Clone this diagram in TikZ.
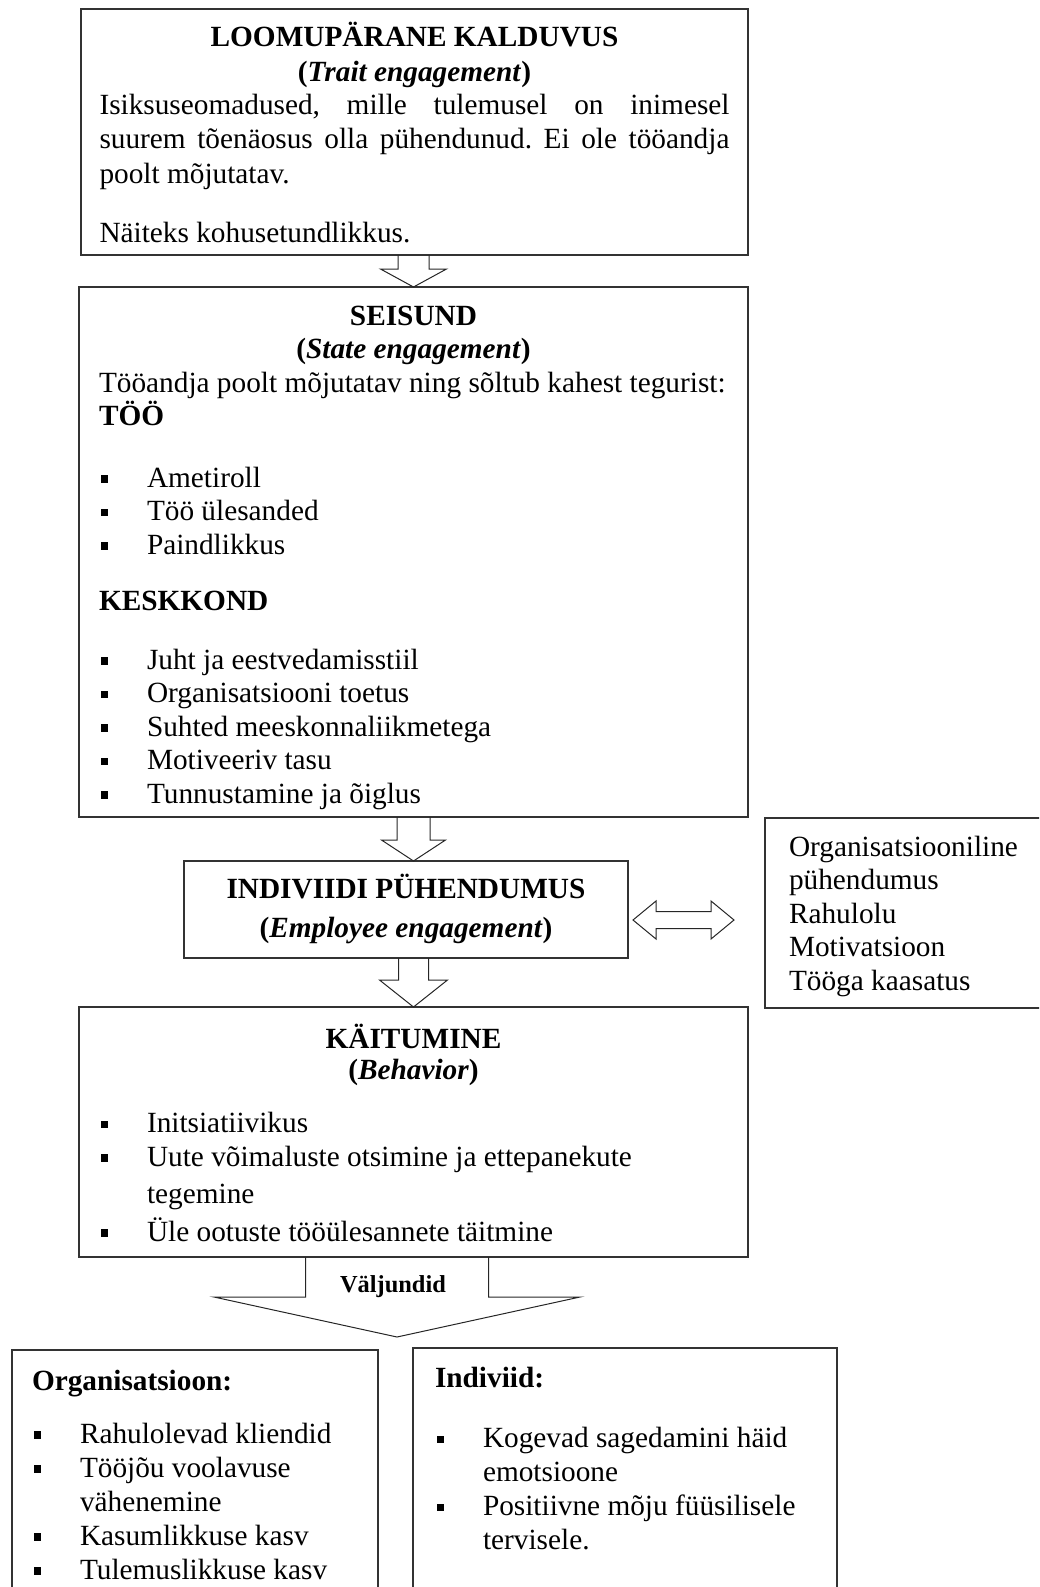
\documentclass[tikz,border=0pt]{standalone}
\usepackage{fontspec}
\setmainfont{Liberation Serif}
\usetikzlibrary{calc}
\frenchspacing

% square bullet of the item lists
\newcommand{\sqb}{\makebox[48pt][l]{\hspace{1.5pt}\rule[4.5pt]{7.5pt}{7.5pt}}}
% normal interword space of the font in ragged nodes
\newcommand{\plainsp}{\spaceskip=0pt\xspaceskip=0pt\relax}
% hollow block arrow: source node, tip, half shaft, half head, head length
\newcommand{\downblock}[5]{%
  \draw[blockarrow] let \p1=(#1.south), \p2=(#2) in
    (\x2-#3pt,\y1) -- (\x2-#3pt,\y2+#5pt) -- (\x2-#4pt,\y2+#5pt) -- (\p2)
    -- (\x2+#4pt,\y2+#5pt) -- (\x2+#3pt,\y2+#5pt) -- (\x2+#3pt,\y1);}

\begin{document}
\begin{tikzpicture}[x=1pt,y=-1pt,
    box/.style={draw=black!80,line width=1.5pt,anchor=north west,inner ysep=0pt,outer sep=0pt,
      font=\fontsize{29.3}{33.5}\selectfont},
    blockarrow/.style={draw=black!85,line width=1pt,line join=miter}]
  \useasboundingbox (0,0) rectangle (1039,1587);
  \clip (0,0) rectangle (1039,1587);

  \node[box,inner xsep=18.5pt,text width=630pt,align=justify,text height=37.5pt,text depth=208.5pt] (trait) at (81,9)
    {\plainsp{\centering\textbf{LOOMUPÄRANE KALDUVUS}\\[2pt]\textbf{(\textit{Trait engagement})}\par}\vspace{-2pt}
     \fontsize{29.3}{34.5}\selectfont
     Isiksuseomadused, mille tulemusel on inimesel\linebreak suurem tõenäosus olla pühendunud. Ei ole tööandja\linebreak poolt mõjutatav.\par\vspace{25pt}
     Näiteks kohusetundlikkus.};
  \node[box,inner xsep=20pt,text width=629pt,align=left,text height=38pt,text depth=492pt] (state) at (79,287)
    {\plainsp{\centering\textbf{SEISUND}\\\textbf{(\textit{State engagement})}\par}
     \mbox{Tööandja poolt mõjutatav ning sõltub kahest tegurist:}\\
     \textbf{TÖÖ}\\[28pt]
     \sqb Ametiroll\\
     \sqb Töö ülesanded\\
     \sqb Paindlikkus\\[23pt]
     \textbf{KESKKOND}\\[25pt]
     \sqb Juht ja eestvedamisstiil\\
     \sqb Organisatsiooni toetus\\
     \sqb Suhted meeskonnaliikmetega\\
     \sqb Motiveeriv tasu\\
     \sqb Tunnustamine ja õiglus};
  \node[box,inner xsep=10pt,text width=424pt,align=flush center,text height=37pt,text depth=60pt] (empl) at (184,861)
    {\plainsp\textbf{INDIVIIDI PÜHENDUMUS}\\[5.5pt]\textbf{(\textit{Employee engagement})}};
  \node[box,inner xsep=24pt,text width=232pt,align=left,text height=38pt,text depth=152pt] (side) at (765,818)
    {\plainsp Organisatsiooniline\\ pühendumus\\ Rahulolu\\ Motivatsioon\\ Tööga kaasatus};
  \node[box,inner xsep=20pt,text width=629pt,align=left,text height=41pt,text depth=209pt] (beh) at (79,1007)
    {\plainsp{\centering\textbf{KÄITUMINE}\\[-2.5pt]\textbf{(\textit{Behavior})}\par}\vspace{20pt}
     \sqb Initsiatiivikus\\
     \sqb Uute võimaluste otsimine ja ettepanekute\\[4pt]
     \hspace*{48pt}tegemine\\[4pt]
     \sqb Üle ootuste tööülesannete täitmine};
  \node[box,inner xsep=20pt,text width=326pt,align=left,text height=40pt,text depth=250pt,
      font=\fontsize{29.3}{34}\selectfont] (org) at (12,1350)
    {\plainsp\textbf{Organisatsioon:}\\[19pt]
     \sqb Rahulolevad kliendid\\
     \sqb Tööjõu voolavuse\\
     \hspace*{48pt}vähenemine\\
     \sqb Kasumlikkuse kasv\\
     \sqb Tulemuslikkuse kasv};
  \node[box,inner xsep=22pt,text width=380pt,align=left,text height=39pt,text depth=250pt,
      font=\fontsize{29.3}{34}\selectfont] (ind) at (413,1348)
    {\plainsp\textbf{Indiviid:}\\[26.5pt]
     \sqb Kogevad sagedamini häid\\
     \hspace*{48pt}emotsioone\\
     \sqb Positiivne mõju füüsilisele\\
     \hspace*{48pt}tervisele.};

  % arrows between the boxes
  \downblock{trait}{state.north}{15.5}{33}{18}
  \downblock{state}{state.south |- empl.north}{16.5}{32}{21}
  \downblock{empl}{beh.north}{15}{34}{27}
  \coordinate (out) at (397,1337);
  \downblock{beh}{out}{91.5}{183}{40}
  \node[font=\fontsize{24.4}{28}\selectfont\bfseries] (outlbl) at (393,1287) {Väljundid};

  \coordinate (dl) at (633,920);
  \coordinate (dr) at (734,920);
  \draw[blockarrow] (dl) -- ++(23,-19) -- ++(0,10.5) -- ++(55,0) -- ++(0,-10.5) -- (dr)
    -- ++(-23,19) -- ++(0,-10.5) -- ++(-55,0) -- ++(0,10.5) -- cycle;
\end{tikzpicture}
\end{document}
